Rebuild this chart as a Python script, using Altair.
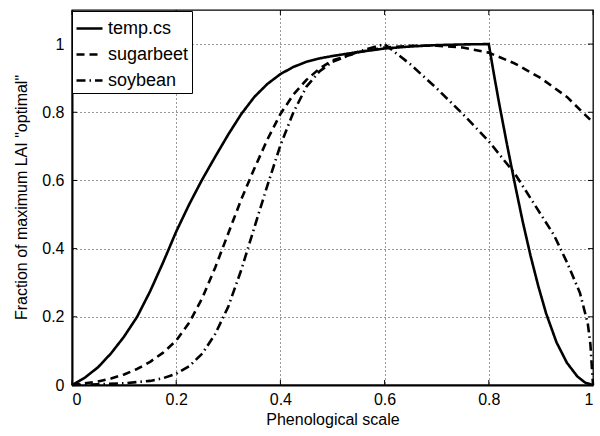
import altair as alt
import pandas as pd

# ---- data ----
series_names = ["temp.cs", "sugarbeet", "soybean"]

temp_x = [0, 0.025, 0.05, 0.075, 0.1, 0.125, 0.15, 0.175, 0.2, 0.225, 0.25, 0.275, 0.3,
          0.325, 0.35, 0.375, 0.4, 0.425, 0.45, 0.475, 0.5, 0.55, 0.6, 0.65, 0.7, 0.75, 0.8,
          0.81, 0.82, 0.835, 0.85, 0.865, 0.88, 0.895, 0.91, 0.93, 0.95, 0.97, 0.985, 1.0]
temp_y = [0, 0.022, 0.052, 0.093, 0.142, 0.2, 0.275, 0.36, 0.45, 0.53, 0.603, 0.67, 0.735,
          0.795, 0.845, 0.883, 0.912, 0.933, 0.948, 0.958, 0.965, 0.977, 0.987, 0.993, 0.997,
          0.999, 1.0,
          0.91, 0.825, 0.705, 0.59, 0.48, 0.38, 0.29, 0.21, 0.125, 0.065, 0.025, 0.007, 0.0]

beet_x = [0, 0.05, 0.075, 0.1, 0.125, 0.15, 0.175, 0.2, 0.225, 0.25, 0.275, 0.3, 0.325, 0.35,
          0.375, 0.4, 0.425, 0.45, 0.475, 0.5, 0.55, 0.6, 0.65, 0.7, 0.75, 0.8, 0.85, 0.9,
          0.95, 1.0]
beet_y = [0, 0.01, 0.019, 0.031, 0.047, 0.068, 0.095, 0.13, 0.183, 0.255, 0.345, 0.445, 0.545,
          0.635, 0.72, 0.795, 0.852, 0.895, 0.928, 0.952, 0.976, 0.99, 0.995, 0.995, 0.99,
          0.975, 0.943, 0.9, 0.845, 0.77]

soy_x = [0, 0.05, 0.1, 0.15, 0.175, 0.2, 0.225, 0.25, 0.275, 0.3, 0.325, 0.35, 0.375, 0.4,
         0.425, 0.45, 0.475, 0.5, 0.55, 0.6, 0.65, 0.7, 0.75, 0.8, 0.85, 0.9, 0.925, 0.95,
         0.975, 0.99, 0.995, 1.0]
soy_y = [0, 0.002, 0.005, 0.012, 0.02, 0.033, 0.055, 0.092, 0.15, 0.23, 0.338, 0.462, 0.585,
         0.703, 0.8, 0.875, 0.92, 0.948, 0.978, 1.0, 0.94, 0.87, 0.795, 0.715, 0.62, 0.5, 0.44,
         0.36, 0.27, 0.18, 0.12, 0.0]

x_ticks = [0, 0.2, 0.4, 0.6, 0.8, 1.0]
y_ticks = [0, 0.2, 0.4, 0.6, 0.8, 1.0]
x_domain = [0, 1]
y_domain = [0, 1.1]

rows = []
for name, xs, ys in [("temp.cs", temp_x, temp_y), ("sugarbeet", beet_x, beet_y), ("soybean", soy_x, soy_y)]:
    for i, (a, b) in enumerate(zip(xs, ys)):
        rows.append({"series": name, "x": a, "y": b, "order": i})
df = pd.DataFrame(rows)

FONT = "Liberation Sans"

xscale = alt.Scale(domain=x_domain, nice=False, zero=False)
yscale = alt.Scale(domain=y_domain, nice=False, zero=False)

lines = alt.Chart(df).mark_line(strokeWidth=2.6, color="black", strokeCap="butt",
                                strokeJoin="round").encode(
    x=alt.X("x:Q", scale=xscale, title="Phenological scale",
            axis=alt.Axis(values=x_ticks, format="~g", grid=True, ticks=False,
                          labelPadding=6, titleY=34, titleBaseline="middle")),
    y=alt.Y("y:Q", scale=yscale, title='Fraction of maximum LAI "optimal"',
            axis=alt.Axis(values=y_ticks, format="~g", grid=True, ticks=False,
                          labelPadding=8, titleX=-51, titleY=187, titleBaseline="middle")),
    strokeDash=alt.StrokeDash(
        "series:N",
        scale=alt.Scale(domain=series_names, range=[[1, 0], [8, 5], [9, 4, 1.5, 4]]),
        sort=series_names,
        legend=alt.Legend(
            title=None, orient="none", legendX=0, legendY=1,
            strokeColor="black", fillColor="white", padding=3,
            symbolType="stroke", symbolSize=676, symbolStrokeWidth=2.6,
            symbolStrokeColor="black", labelFontSize=18, labelFont=FONT,
            labelColor="black", rowPadding=2, labelOffset=4,
        ),
    ),
    order="order:Q",
)

tick_len_x = 0.0097  # in data units, ~5px
tick_len_y = 0.0147

xt_df = pd.DataFrame({"t": x_ticks})
yt_df = pd.DataFrame({"t": y_ticks})

bottom_ticks = alt.Chart(xt_df).mark_rule(color="black", strokeWidth=1).encode(
    x=alt.X("t:Q", scale=xscale), y=alt.datum(y_domain[0], scale=yscale),
    y2=alt.datum(y_domain[0] + tick_len_y))
top_ticks = alt.Chart(xt_df).mark_rule(color="black", strokeWidth=1).encode(
    x=alt.X("t:Q", scale=xscale), y=alt.datum(y_domain[1], scale=yscale),
    y2=alt.datum(y_domain[1] - tick_len_y))
left_ticks = alt.Chart(yt_df).mark_rule(color="black", strokeWidth=1).encode(
    y=alt.Y("t:Q", scale=yscale), x=alt.datum(x_domain[0], scale=xscale),
    x2=alt.datum(x_domain[0] + tick_len_x))
right_ticks = alt.Chart(yt_df).mark_rule(color="black", strokeWidth=1).encode(
    y=alt.Y("t:Q", scale=yscale), x=alt.datum(x_domain[1], scale=xscale),
    x2=alt.datum(x_domain[1] - tick_len_x))

chart = alt.layer(bottom_ticks, top_ticks, left_ticks, right_ticks, lines).properties(
    width=521, height=375,
    autosize=alt.AutoSizeParams(type="none"),
    padding={"left": 72, "top": 10, "right": 7, "bottom": 51},
    background="white",
).configure_view(
    stroke="black", strokeWidth=1.3
).configure_axis(
    labelFont=FONT, titleFont=FONT, labelFontSize=16, titleFontSize=16,
    labelColor="black", titleColor="black", titleFontWeight="normal",
    domainColor="black", domainWidth=2,
    gridColor="#333333", gridDash=[1, 3], gridWidth=1, gridOpacity=1,
)

chart.save("out.html", embed_options={"renderer": "svg", "actions": False})
